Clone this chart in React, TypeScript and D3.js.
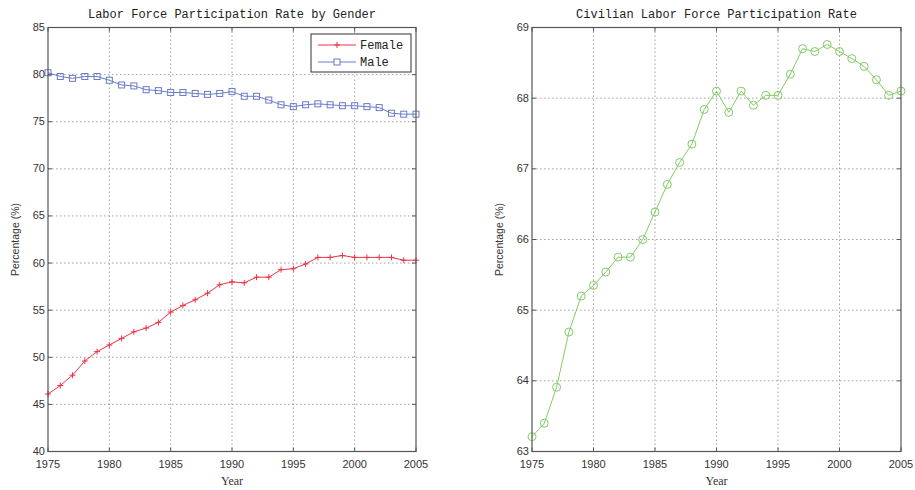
import React from "react";
import * as d3 from "d3";

const years: number[] = d3.range(1975, 2006);
const femaleValues: number[] = [46.1, 47.0, 48.1, 49.6, 50.6, 51.3, 52.0, 52.7, 53.1, 53.7, 54.8, 55.5, 56.1, 56.8, 57.7, 58.0, 57.9, 58.5, 58.5, 59.3, 59.4, 59.9, 60.6, 60.6, 60.8, 60.6, 60.6, 60.6, 60.6, 60.3, 60.3];
const maleValues: number[] = [80.2, 79.8, 79.6, 79.8, 79.8, 79.4, 78.9, 78.8, 78.4, 78.3, 78.1, 78.1, 78.0, 77.9, 78.0, 78.2, 77.7, 77.7, 77.3, 76.8, 76.6, 76.8, 76.9, 76.8, 76.7, 76.7, 76.6, 76.5, 75.9, 75.8, 75.8];
const civilianValues: number[] = [63.21, 63.4, 63.91, 64.69, 65.2, 65.35, 65.54, 65.75, 65.75, 66.0, 66.39, 66.78, 67.09, 67.35, 67.84, 68.1, 67.8, 68.1, 67.9, 68.04, 68.04, 68.34, 68.7, 68.66, 68.76, 68.66, 68.56, 68.45, 68.26, 68.04, 68.1];
const xTicks: number[] = [1975, 1980, 1985, 1990, 1995, 2000, 2005];
const leftYTicks: number[] = [40, 45, 50, 55, 60, 65, 70, 75, 80, 85];
const rightYTicks: number[] = [63, 64, 65, 66, 67, 68, 69];
const leftTitle = "Labor Force Participation Rate by Gender";
const rightTitle = "Civilian Labor Force Participation Rate";
const legendLabels = ["Female", "Male"];

const RED = "#ee3344";
const BLUE = "#6a7bc8";
const GREEN = "#84cc66";
const AXIS = "#555";
const GRID = "#8a8a8a";
const TICKFONT = "Liberation Sans, Arial, sans-serif";
const MONO = "Liberation Mono, monospace";

type Panel = {
  x0: number; x1: number; y0: number; y1: number;
  ydomain: [number, number]; yticks: number[]; title: string;
};

function Frame({ p, children }: { p: Panel; children?: React.ReactNode }) {
  const x = d3.scaleLinear().domain([1975, 2005]).range([p.x0, p.x1]);
  const y = d3.scaleLinear().domain(p.ydomain).range([p.y1, p.y0]);
  const tl = 4;
  return (
    <g>
      <rect x={p.x0} y={p.y0} width={p.x1 - p.x0} height={p.y1 - p.y0} fill="#fff" />
      {xTicks.slice(1, -1).map((t) => (
        <line key={"gx" + t} x1={x(t)} x2={x(t)} y1={p.y0} y2={p.y1} stroke={GRID} strokeWidth={0.8} strokeDasharray="1.5,2.5" />
      ))}
      {p.yticks.slice(1, -1).map((t) => (
        <line key={"gy" + t} x1={p.x0} x2={p.x1} y1={y(t)} y2={y(t)} stroke={GRID} strokeWidth={0.8} strokeDasharray="1.5,2.5" />
      ))}
      {children}
      <rect x={p.x0} y={p.y0} width={p.x1 - p.x0} height={p.y1 - p.y0} fill="none" stroke={AXIS} strokeWidth={1.2} />
      {xTicks.map((t) => (
        <g key={"tx" + t}>
          <line x1={x(t)} x2={x(t)} y1={p.y1} y2={p.y1 - tl} stroke={AXIS} />
          <line x1={x(t)} x2={x(t)} y1={p.y0} y2={p.y0 + tl} stroke={AXIS} />
          <text x={x(t)} y={p.y1 + 16} textAnchor="middle" fontSize={11} fontFamily={TICKFONT} fill="#333">{t}</text>
        </g>
      ))}
      {p.yticks.map((t) => (
        <g key={"ty" + t}>
          <line x1={p.x0} x2={p.x0 + tl} y1={y(t)} y2={y(t)} stroke={AXIS} />
          <line x1={p.x1} x2={p.x1 - tl} y1={y(t)} y2={y(t)} stroke={AXIS} />
          <text x={p.x0 - 3} y={y(t) + 3.5} textAnchor="end" fontSize={11} fontFamily={TICKFONT} fill="#333">{t}</text>
        </g>
      ))}
      <text x={(p.x0 + p.x1) / 2} y={p.y0 - 10} textAnchor="middle" fontSize={12} fontFamily={MONO} fill="#222">{p.title}</text>
      <text x={(p.x0 + p.x1) / 2} y={p.y1 + 33} textAnchor="middle" fontSize={12} fontFamily="Liberation Serif, serif" fill="#333">Year</text>
      <text transform={`translate(${p.x0 - 29},${(p.y0 + p.y1) / 2}) rotate(-90)`} textAnchor="middle" fontSize={10.5} fontFamily={TICKFONT} fill="#333">Percentage (%)</text>
    </g>
  );
}

function Plus({ cx, cy, color }: { cx: number; cy: number; color: string }) {
  return (
    <g stroke={color} strokeWidth={1}>
      <line x1={cx - 3} x2={cx + 3} y1={cy} y2={cy} />
      <line x1={cx} x2={cx} y1={cy - 3} y2={cy + 3} />
    </g>
  );
}

export default function App() {
  const left: Panel = { x0: 48, x1: 416, y0: 27.5, y1: 451.5, ydomain: [40, 85], yticks: leftYTicks, title: leftTitle };
  const right: Panel = { x0: 532, x1: 901, y0: 27.5, y1: 451.5, ydomain: [63, 69], yticks: rightYTicks, title: rightTitle };

  const lx = d3.scaleLinear().domain([1975, 2005]).range([left.x0, left.x1]);
  const ly = d3.scaleLinear().domain(left.ydomain).range([left.y1, left.y0]);
  const rx = d3.scaleLinear().domain([1975, 2005]).range([right.x0, right.x1]);
  const ry = d3.scaleLinear().domain(right.ydomain).range([right.y1, right.y0]);

  const lineL = (vals: number[]) => d3.line<number>().x((_, i) => lx(years[i])).y((v) => ly(v))(vals) || "";
  const lineR = d3.line<number>().x((_, i) => rx(years[i])).y((v) => ry(v))(civilianValues) || "";

  const legX = 311, legY = 34, legW = 100, legH = 38;

  return (
    <svg width={915} height={490} style={{ position: "absolute", left: 0, top: 0, background: "#fff" }}>
      <Frame p={left}>
        <path d={lineL(femaleValues)} fill="none" stroke={RED} strokeWidth={1} />
        {femaleValues.map((v, i) => <Plus key={"f" + i} cx={lx(years[i])} cy={ly(v)} color={RED} />)}
        <path d={lineL(maleValues)} fill="none" stroke={BLUE} strokeWidth={1} />
        {maleValues.map((v, i) => (
          <rect key={"m" + i} x={lx(years[i]) - 3} y={ly(v) - 3} width={6} height={6} fill="none" stroke={BLUE} strokeWidth={1} />
        ))}
        <g>
          <rect x={legX} y={legY} width={legW} height={legH} fill="#fff" stroke="#333" strokeWidth={1} />
          <line x1={legX + 7} x2={legX + 45} y1={legY + 11} y2={legY + 11} stroke={RED} />
          <Plus cx={legX + 26} cy={legY + 11} color={RED} />
          <text x={legX + 49} y={legY + 15} fontSize={12} fontFamily={MONO} fill="#222">{legendLabels[0]}</text>
          <line x1={legX + 7} x2={legX + 45} y1={legY + 28} y2={legY + 28} stroke={BLUE} />
          <rect x={legX + 23} y={legY + 25} width={6} height={6} fill="#fff" stroke={BLUE} />
          <text x={legX + 49} y={legY + 32} fontSize={12} fontFamily={MONO} fill="#222">{legendLabels[1]}</text>
        </g>
      </Frame>
      <Frame p={right}>
        <path d={lineR} fill="none" stroke={GREEN} strokeWidth={1} />
        {civilianValues.map((v, i) => (
          <circle key={"c" + i} cx={rx(years[i])} cy={ry(v)} r={4} fill="none" stroke={GREEN} strokeWidth={1} />
        ))}
      </Frame>
    </svg>
  );
}
